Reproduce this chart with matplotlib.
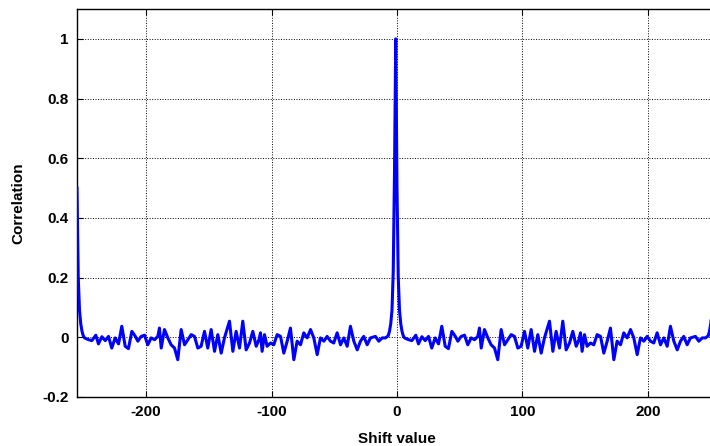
import numpy as np
import matplotlib
matplotlib.use("Agg")
import matplotlib.pyplot as plt

# correlation is periodic (period 255); peak sits at shift -1
period = 255
peak_centers = [-256, -1, 254]
peak_offset = [-6, -5, -4, -3, -2, -1, 0, 1, 2, 3, 4, 5, 6]
peak_value = [0.005, 0.02, 0.045, 0.09, 0.22, 0.55, 1.0, 0.5, 0.2, 0.09, 0.045, 0.02, 0.005]

noise_shift = [
    6.0, 9.2, 11.8, 15.0, 17.1, 19.8, 22.5, 25.1, 27.7, 30.4, 33.1, 35.7, 38.4,
    41.0, 43.7, 46.2, 48.5, 51.1, 53.8, 56.4, 59.1, 61.8, 64.4, 65.7, 67.1, 69.7,
    72.4, 75.0, 77.7, 80.3, 83.0, 85.7, 88.3, 91.0, 93.6, 96.3, 98.9, 101.6,
    104.2, 106.9, 109.6, 112.2, 114.9, 117.5, 121.5, 124.2, 126.8, 129.5, 132.1,
    134.8, 137.5, 140.1, 142.8, 145.0, 146.2, 147.5, 149.4, 151.5, 154.2, 156.8,
    159.5, 162.2, 164.8, 167.5, 170.1, 172.8, 175.4, 178.1, 180.7, 183.4, 186.1,
    188.7, 191.4, 194.0, 196.7, 199.3, 202.0, 204.6, 207.3, 210.0, 212.6, 215.3,
    217.9, 220.6, 223.3, 225.9, 228.5, 231.2, 233.9, 237.8, 240.5, 243.2, 245.8,
]
noise_value = [
    -0.002, -0.008, -0.011, 0.007, -0.022, 0.002, -0.011, 0.003, -0.036, -0.002,
    -0.022, 0.037, -0.030, -0.038, 0.020, 0.005, -0.013, 0.003, 0.007, -0.025,
    -0.002, -0.008, 0.003, 0.031, -0.036, 0.026, -0.002, -0.025, -0.036, -0.075,
    0.026, -0.025, -0.008, 0.009, 0.003, -0.036, -0.030, 0.020, -0.036, 0.026,
    -0.047, 0.009, -0.053, -0.002, 0.054, -0.047, 0.020, -0.036, 0.054, -0.042,
    -0.019, 0.020, -0.030, -0.008, 0.015, -0.047, 0.009, -0.030, -0.019, -0.025,
    0.009, 0.003, -0.053, -0.013, 0.031, -0.075, -0.013, -0.025, 0.015, -0.002,
    0.026, -0.002, -0.058, -0.002, -0.013, 0.003, -0.013, -0.019, 0.015, -0.025,
    -0.002, -0.030, 0.037, -0.013, -0.042, -0.013, 0.003, -0.025, -0.002, 0.003,
    -0.013, -0.002, -0.002,
]

x_ticks = [-200, -100, 0, 100, 200]
x_tick_labels = ["-200", "-100", "0", "100", "200"]
y_ticks = [-0.2, 0, 0.2, 0.4, 0.6, 0.8, 1.0]
y_tick_labels = ["-0.2", "0", "0.2", "0.4", "0.6", "0.8", "1"]

# assemble the series: peaks plus noise in both periods
xs, ys = [], []
for c in peak_centers:
    xs += [c + o for o in peak_offset]
    ys += peak_value
for shift_back in (period, 0):
    xs += [s - shift_back for s in noise_shift]
    ys += noise_value
xs = np.array(xs)
ys = np.array(ys)
keep = (xs >= -255) & (xs <= 255)  # data runs from -255 to 255
xs, ys = xs[keep], ys[keep]
order = np.argsort(xs)
xs, ys = xs[order], ys[order]

plt.rcParams["font.family"] = ["Liberation Sans", "DejaVu Sans"]
plt.rcParams["font.weight"] = "bold"

fig = plt.figure(figsize=(7.1, 4.46), dpi=100)
# right edge of the axes runs just past the image, like the reference crop
ax = fig.add_axes([77 / 710, 49 / 446, 640 / 710, 388 / 446])
ax.plot(xs, ys, color="#0000ff", linewidth=2.2, zorder=3)

ax.set_xlim(-255, 255)
ax.set_ylim(-0.2, 1.1)
ax.set_xticks(x_ticks, x_tick_labels)
ax.set_yticks(y_ticks, y_tick_labels)
ax.tick_params(direction="in", length=4, width=0.8, labelsize=11, pad=6,
               top=True, right=True, colors="k")
ax.grid(True, color="k", linestyle=":", linewidth=0.7)
for sp in ax.spines.values():
    sp.set_linewidth(1.0)
    sp.set_color("k")

ax.set_xlabel("Shift value", fontsize=11, fontweight="bold", labelpad=9)
ax.set_ylabel("Correlation", fontsize=11, fontweight="bold", labelpad=12)

fig.savefig("out.png", dpi=100)
